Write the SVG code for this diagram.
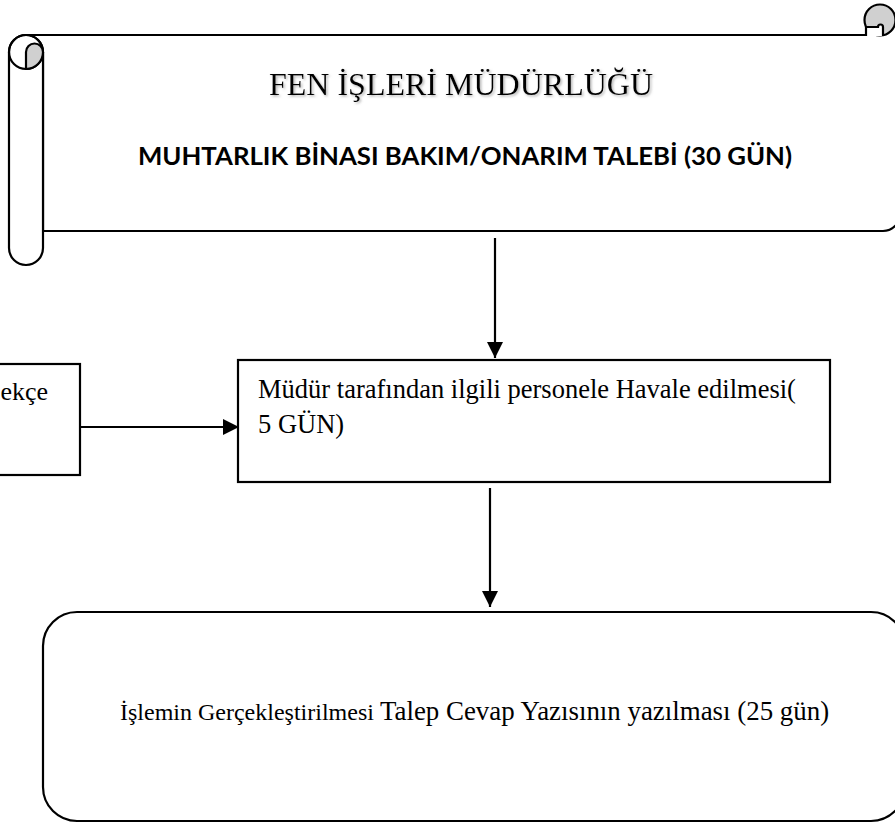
<svg xmlns="http://www.w3.org/2000/svg" width="895" height="825" viewBox="0 0 895 825">
<style>
.ln{fill:none;stroke:#000;stroke-width:2.2}
.box{fill:#fff;stroke:#000;stroke-width:2.2}
.curl{fill:#d0d0d0;stroke:#000;stroke-width:2.2}
.serif{font-family:"Liberation Serif","Times New Roman",serif;fill:#000}
.bold{font-family:Lato,"Open Sans","Liberation Sans",sans-serif;font-weight:bold;fill:#000}
.con{stroke:#000;stroke-width:2.2;fill:none}
</style>
<defs>
<marker id="ah" markerUnits="userSpaceOnUse" markerWidth="17" markerHeight="16" refX="16" refY="8" orient="auto">
<path d="M0,0 L16,8 L0,16 Z" fill="#000"/>
</marker>
<filter id="sh" x="-5%" y="-20%" width="110%" height="150%">
<feDropShadow dx="1.5" dy="1.5" stdDeviation="1" flood-color="#888" flood-opacity="0.6"/>
</filter>
</defs>
<rect width="895" height="825" fill="#fff"/>

<g id="header">
<path d="M26,35 H880 V231 H43 V52 Z" fill="#fff"/>
<path class="ln" d="M26,35 H866"/>
<path class="ln" d="M43,52 V231 H883 A17,17 0 0 0 900,214 V20"/>
<path class="box" d="M9,52 V248 A17,17 0 0 0 43,248 V52 A17,17 0 0 0 9,52 Z"/>
<circle class="ln" cx="26" cy="52" r="17"/>
<path class="curl" d="M26,69 V52 A8.5,8.5 0 0 1 43,52 A17,17 0 0 1 26,69 Z"/>
<circle class="curl" cx="880" cy="20" r="15.5"/>
<path class="box" d="M866,36 V27 H878 A2.5,2.5 0 0 1 883,27 V36"/>
<text class="serif" x="461" y="95" font-size="32" text-anchor="middle" filter="url(#sh)">FEN İŞLERİ MÜDÜRLÜĞÜ</text>
<text class="bold" x="465" y="165" font-size="25.5" text-anchor="middle" textLength="654" lengthAdjust="spacingAndGlyphs">MUHTARLIK BİNASI BAKIM/ONARIM TALEBİ (30 GÜN)</text>
</g>

<g id="dilekce">
<rect class="box" x="-5" y="364" width="85" height="111"/>
<text class="serif" x="48" y="400" font-size="26" text-anchor="end">ekçe</text>
</g>

<g id="havale">
<rect class="box" x="238" y="360" width="592" height="122"/>
<text class="serif" x="258" y="398" font-size="26.5">Müdür tarafından ilgili personele Havale edilmesi(</text>
<text class="serif" x="258" y="433" font-size="26.5">5 GÜN)</text>
</g>

<g id="islem">
<rect class="box" x="43" y="612" width="862" height="209" rx="34" ry="34"/>
<text class="serif" x="120" y="720"><tspan font-size="24">İşlemin Gerçekleştirilmesi </tspan><tspan font-size="26.9">Talep Cevap Yazısının yazılması (25 gün)</tspan></text>
</g>

<g id="connectors">
<line class="con" x1="495" y1="238" x2="495" y2="358" marker-end="url(#ah)"/>
<line class="con" x1="490" y1="488" x2="490" y2="607" marker-end="url(#ah)"/>
<line class="con" x1="80" y1="427" x2="239" y2="427" marker-end="url(#ah)"/>
</g>
</svg>
